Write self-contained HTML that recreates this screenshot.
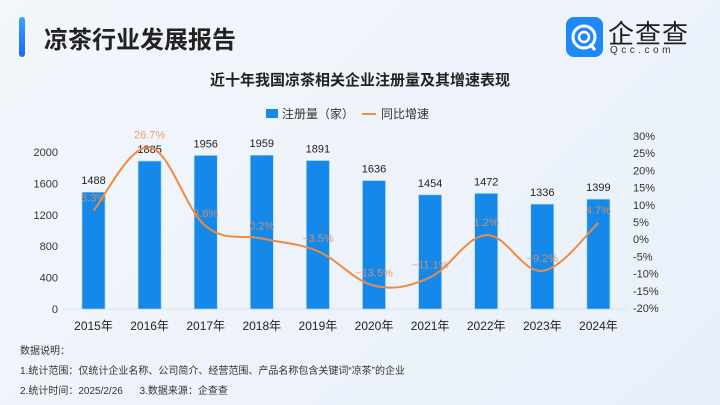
<!DOCTYPE html>
<html><head><meta charset="utf-8">
<style>
body{margin:0;width:720px;height:405px;overflow:hidden;font-family:"Liberation Sans","Noto Sans CJK SC",sans-serif;background:linear-gradient(135deg,#f3f6fb 0%,#eef3fb 50%,#e9f0fa 100%);position:relative}
.abs{position:absolute}
</style></head><body>
<div class="abs" style="left:19px;top:17px;width:6px;height:40px;border-radius:3px;background:linear-gradient(#3aa0ff,#1a6cf0)"></div>
<div class="abs" style="left:44px;top:20px;font-size:24px;font-weight:bold;color:#222">凉茶行业发展报告</div>
<div class="abs" style="left:566px;top:17px;width:37px;height:40px;border-radius:8px;background:#1e88f5">
<svg width="37" height="40"><circle cx="18" cy="20" r="11" fill="none" stroke="#fff" stroke-width="3"/><circle cx="18" cy="20" r="5" fill="none" stroke="#fff" stroke-width="2.5"/><line x1="24" y1="27" x2="29" y2="33" stroke="#fff" stroke-width="3"/></svg></div>
<div class="abs" style="left:608px;top:14px;font-size:26px;color:#1e1e1e;letter-spacing:1px">企查查</div>
<div class="abs" style="left:610px;top:45px;font-size:10px;color:#333;letter-spacing:3.5px">Qcc.com</div>
<div class="abs" style="left:0;width:720px;top:69px;text-align:center;font-size:15px;font-weight:bold;color:#222">近十年我国凉茶相关企业注册量及其增速表现</div>
<div class="abs" style="left:266px;top:105px;font-size:12px;color:#333;display:flex;align-items:center">
<span style="width:12px;height:9px;background:#1589ea;display:inline-block;margin-right:4px"></span><span>注册量（家）</span>
<span style="width:14px;height:2px;background:#f08a3c;display:inline-block;margin:0 5px 0 8px"></span><span>同比增速</span></div>
<svg class="abs" style="left:0;top:0" width="720" height="405" id="chart"></svg>
<div class="abs" style="left:20px;top:342px;font-size:10px;color:#333;line-height:20px">
<div>数据说明：</div>
<div>1.统计范围：仅统计企业名称、公司简介、经营范围、产品名称包含关键词“凉茶”的企业</div>
<div>2.统计时间：2025/2/26&nbsp;&nbsp;&nbsp;&nbsp;&nbsp;&nbsp;3.数据来源：企查查</div></div>
<script>
const categories=["2015年","2016年","2017年","2018年","2019年","2020年","2021年","2022年","2023年","2024年"];
const counts=[1488,1885,1956,1959,1891,1636,1454,1472,1336,1399];
const growth=[8.3,26.7,3.8,0.2,-3.5,-13.5,-11.1,1.2,-9.2,4.7];
const leftTicks=[0,400,800,1200,1600,2000];
const rightTicks=[-20,-15,-10,-5,0,5,10,15,20,25,30];
const NS="http://www.w3.org/2000/svg";
const svg=document.getElementById('chart');
const yL=v=>309-v*157/2000;
const yR=v=>308-(v+20)*172/50;
const xC=i=>93.5+i*56.1;
function el(t,a,txt){const e=document.createElementNS(NS,t);for(const k in a)e.setAttribute(k,a[k]);if(txt!==undefined)e.textContent=txt;svg.appendChild(e);return e;}
const ax=el('line',{x1:63,x2:628,y1:309,y2:309,stroke:'#dde3ec','stroke-width':1});

leftTicks.forEach(v=>{const t=el('text',{x:58,y:yL(v)+4,'text-anchor':'end','font-size':11,fill:'#333'},v);
});
rightTicks.forEach(v=>{const t=el('text',{x:633,y:yR(v)+4,'font-size':11,fill:'#333'},v+'%');
});
categories.forEach((c,i)=>{
const b=el('rect',{x:xC(i)-11.5,y:yL(counts[i]),width:23,height:309-yL(counts[i]),fill:'#1589ea',stroke:'#a9d4fb','stroke-width':0.6});

const l=el('text',{x:xC(i),y:yL(counts[i])-8,'text-anchor':'middle','font-size':11,fill:'#222'},counts[i]);

const x=el('text',{x:xC(i),y:330,'text-anchor':'middle','font-size':12,fill:'#222'},c);

});
const pts=growth.map((g,i)=>[xC(i),yR(g)]);
let d='M'+pts[0][0]+','+pts[0][1];
for(let i=0;i<pts.length-1;i++){const p0=pts[Math.max(0,i-1)],p1=pts[i],p2=pts[i+1],p3=pts[Math.min(pts.length-1,i+2)];const t=0.18;
d+=` C${p1[0]+(p2[0]-p0[0])*t},${p1[1]+(p2[1]-p0[1])*t} ${p2[0]-(p3[0]-p1[0])*t},${p2[1]-(p3[1]-p1[1])*t} ${p2[0]},${p2[1]}`;}
const line=el('path',{d:d,fill:'none',stroke:'#f08a3c','stroke-width':2});

growth.forEach((g,i)=>{const t=el('text',{x:xC(i),y:yR(g)-9,'text-anchor':'middle','font-size':11,fill:'#e8915a','fill-opacity':0.85},(g<0?'−'+(-g):g)+'%');
});
</script>
</body></html>
